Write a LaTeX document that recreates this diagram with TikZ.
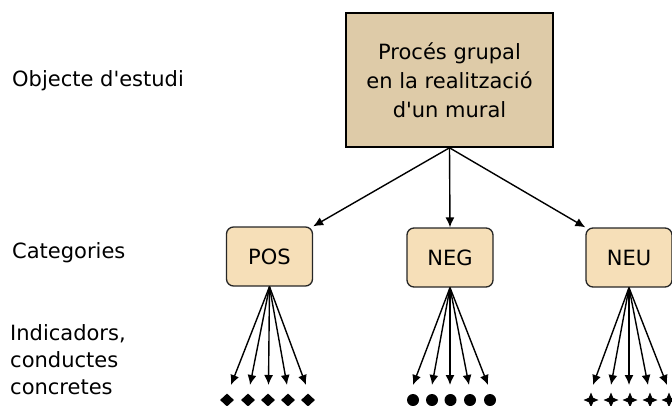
\documentclass[tikz,border=0pt]{standalone}
\usepackage{fontspec}
\setmainfont{DejaVu Sans}
\usetikzlibrary{arrows.meta,shapes.geometric}
\definecolor{topfill}{HTML}{DECBA8}
\definecolor{catfill}{HTML}{F6DFB8}
\tikzset{
  topbox/.style={draw=black, line width=1.6pt, fill=topfill, minimum width=207pt, minimum height=134pt, inner sep=0pt, align=center, font=\fontsize{21}{29}\selectfont},
  catbox/.style={draw=black!85, line width=1.3pt, fill=catfill, rounded corners=7pt, minimum width=86pt, minimum height=59pt, inner sep=0pt, font=\fontsize{21}{25}\selectfont},
  lbl/.style={anchor=west, inner sep=0pt, align=left, font=\fontsize{21}{27}\selectfont},
  arr/.style={line width=1.4pt, -{Latex[length=10pt,width=9pt]}},
  dia/.style={diamond, fill=black, inner sep=0pt, minimum width=14pt, minimum height=13pt},
  dot/.style={circle, fill=black, inner sep=0pt, minimum size=12pt},
  st4/.style={star, star points=4, star point ratio=2.4, fill=black, inner sep=0pt, minimum size=15pt},
}
\begin{document}
\begin{tikzpicture}[x=1pt,y=-1pt]
\useasboundingbox (0,0) rectangle (672,405);
\node[topbox] (obj) at (449.5,80) {Procés grupal\\en la realització\\d\textquotesingle un mural};
\node[catbox] (pos) at (269.5,256.5) {POS};
\node[catbox] (neg) at (450,257.5) {NEG};
\node[catbox] (neu) at (629,257.5) {NEU};
\node[lbl] (l1) at (12,81) {Objecte d\textquotesingle estudi};
\node[lbl] (l2) at (12,253) {Categories};
\node[lbl] (l3) at (10,360) {Indicadors,\\conductes\\concretes};
\draw[arr] (obj.south) -- (pos.north east);
\draw[arr] (obj.south) -- (neg.north);
\draw[arr] (obj.south) -- (neu.north west);
\foreach \i/\x/\s in {1/231/227, 2/250/248, 3/268.5/268, 4/287/288, 5/306/308}{
  \coordinate (p\i) at (\x,385);
  \draw[arr] (pos.south) -- (p\i);
  \node[dia] (pd\i) at (\s,400) {};
}
\foreach \i/\x/\s in {1/413/413, 2/432/432, 3/450/450.5, 4/469/470, 5/488/490}{
  \coordinate (n\i) at (\x,385);
  \draw[arr] (neg.south) -- (n\i);
  \node[dot] (nd\i) at (\s,400) {};
}
\foreach \i/\x/\s in {1/593/591, 2/611/611, 3/629/630, 4/648/650, 5/667/669}{
  \coordinate (u\i) at (\x,385);
  \draw[arr] (neu.south) -- (u\i);
  \node[st4] (ud\i) at (\s,400) {};
}
\end{tikzpicture}
\end{document}
